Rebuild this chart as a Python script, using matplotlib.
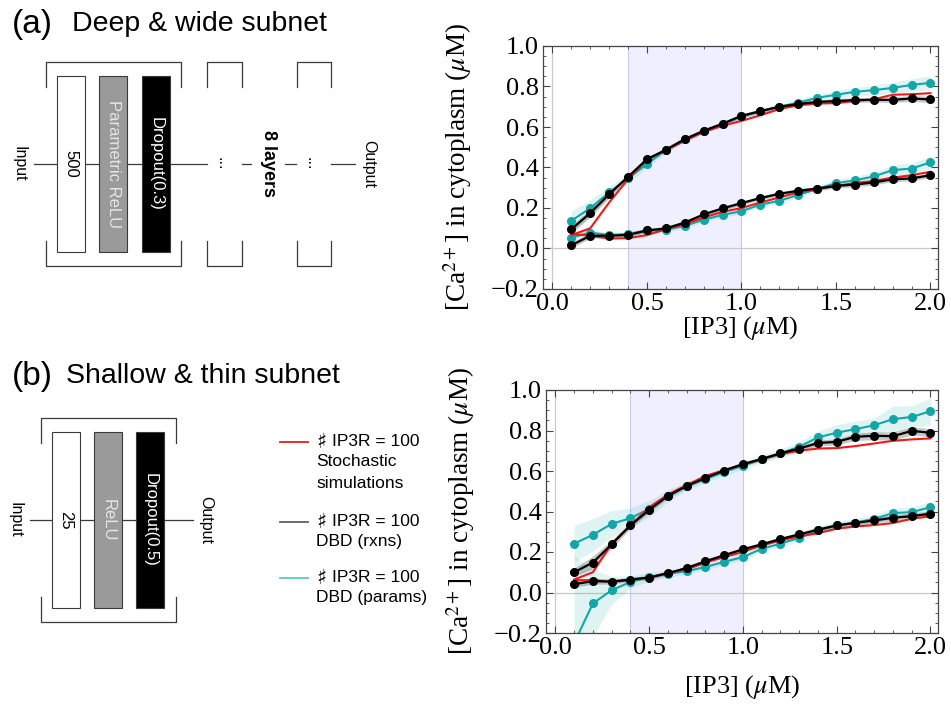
"""Ca2+ response vs IP3: DBD subnet comparison (deep/wide vs shallow/thin)."""

import matplotlib
matplotlib.use("Agg")
import matplotlib.pyplot as plt
import numpy as np
from matplotlib.patches import Rectangle
from matplotlib.ticker import MultipleLocator

plt.rcParams["mathtext.fontset"] = "stix"

ip3 = np.round(np.arange(1, 21) * 0.1, 1)

# panel (a): deep & wide subnet
a_stoch_hi = [0.066, 0.100, 0.227, 0.342, 0.438, 0.487, 0.532, 0.576, 0.606, 0.630,
              0.658, 0.688, 0.708, 0.716, 0.718, 0.729, 0.737, 0.759, 0.762, 0.767]
a_rxns_hi = [0.095, 0.175, 0.268, 0.354, 0.441, 0.487, 0.540, 0.581, 0.616, 0.655,
             0.678, 0.700, 0.713, 0.724, 0.728, 0.733, 0.734, 0.734, 0.741, 0.736]
a_params_hi = [0.137, 0.199, 0.277, 0.347, 0.416, 0.487, 0.540, 0.580, 0.616, 0.652,
               0.678, 0.700, 0.720, 0.744, 0.759, 0.774, 0.782, 0.793, 0.808, 0.818]
a_stoch_lo = [0.071, 0.063, 0.049, 0.051, 0.066, 0.095, 0.120, 0.153, 0.181, 0.200,
              0.227, 0.252, 0.277, 0.293, 0.309, 0.323, 0.334, 0.350, 0.362, 0.379]
a_rxns_lo = [0.016, 0.063, 0.063, 0.067, 0.089, 0.099, 0.128, 0.168, 0.198, 0.224,
             0.249, 0.270, 0.285, 0.296, 0.309, 0.316, 0.326, 0.342, 0.346, 0.362]
a_params_lo = [0.054, 0.079, 0.066, 0.072, 0.089, 0.092, 0.112, 0.142, 0.166, 0.184,
               0.217, 0.235, 0.265, 0.293, 0.323, 0.336, 0.356, 0.387, 0.395, 0.425]
a_rxns_hi_err = [0.020, 0.020, 0.015, 0.012, 0.012, 0.010, 0.010, 0.010, 0.010, 0.010,
                 0.010, 0.010, 0.010, 0.010, 0.012, 0.012, 0.012, 0.012, 0.015, 0.015]
a_params_hi_err = [0.050, 0.040, 0.030, 0.022, 0.018, 0.015, 0.012, 0.012, 0.012, 0.012,
                   0.012, 0.012, 0.015, 0.018, 0.020, 0.022, 0.025, 0.028, 0.030, 0.035]
a_rxns_lo_err = [0.015, 0.012, 0.010, 0.010, 0.010, 0.010, 0.010, 0.010, 0.010, 0.010,
                 0.010, 0.010, 0.010, 0.010, 0.010, 0.012, 0.012, 0.012, 0.012, 0.012]
a_params_lo_err = [0.020, 0.015, 0.012, 0.012, 0.012, 0.012, 0.012, 0.012, 0.012, 0.012,
                   0.012, 0.012, 0.015, 0.015, 0.018, 0.020, 0.022, 0.025, 0.028, 0.030]

# panel (b): shallow & thin subnet
b_stoch_hi = [0.064, 0.100, 0.241, 0.331, 0.421, 0.484, 0.531, 0.575, 0.605, 0.631,
              0.659, 0.684, 0.700, 0.711, 0.713, 0.723, 0.736, 0.749, 0.756, 0.761]
b_rxns_hi = [0.100, 0.148, 0.238, 0.331, 0.408, 0.477, 0.526, 0.566, 0.602, 0.634,
             0.659, 0.687, 0.711, 0.738, 0.744, 0.769, 0.774, 0.772, 0.798, 0.789]
b_params_hi = [0.241, 0.285, 0.339, 0.367, 0.413, 0.477, 0.526, 0.561, 0.597, 0.626,
               0.659, 0.687, 0.720, 0.766, 0.789, 0.807, 0.826, 0.856, 0.867, 0.895]
b_stoch_lo = [0.061, 0.061, 0.052, 0.061, 0.074, 0.097, 0.115, 0.148, 0.175, 0.200,
              0.233, 0.257, 0.277, 0.293, 0.315, 0.326, 0.333, 0.343, 0.364, 0.377]
b_rxns_lo = [0.041, 0.056, 0.054, 0.064, 0.074, 0.095, 0.121, 0.154, 0.184, 0.213,
             0.238, 0.264, 0.287, 0.310, 0.331, 0.344, 0.356, 0.369, 0.377, 0.389]
b_params_lo = [-0.250, -0.054, 0.011, 0.052, 0.077, 0.093, 0.105, 0.126, 0.151, 0.175,
               0.216, 0.241, 0.270, 0.307, 0.331, 0.344, 0.364, 0.392, 0.397, 0.421]
b_rxns_hi_err = [0.020, 0.032, 0.020, 0.015, 0.012, 0.012, 0.010, 0.010, 0.010, 0.010,
                 0.010, 0.012, 0.012, 0.015, 0.015, 0.018, 0.020, 0.020, 0.020, 0.020]
b_params_hi_err = [0.090, 0.080, 0.065, 0.050, 0.040, 0.030, 0.020, 0.018, 0.018, 0.018,
                   0.020, 0.022, 0.025, 0.030, 0.040, 0.040, 0.036, 0.065, 0.055, 0.065]
b_rxns_lo_err = [0.015, 0.015, 0.012, 0.010, 0.010, 0.010, 0.010, 0.010, 0.010, 0.010,
                 0.010, 0.010, 0.010, 0.012, 0.012, 0.012, 0.012, 0.015, 0.015, 0.015]
b_params_lo_err = [0.430, 0.165, 0.070, 0.030, 0.022, 0.018, 0.015, 0.015, 0.015, 0.015,
                   0.015, 0.015, 0.018, 0.020, 0.020, 0.022, 0.022, 0.025, 0.025, 0.028]

shade_lo, shade_hi = 0.4, 1.0

RED = "#f01818"
CYAN = "#13a6a6"
SERIF = "Liberation Serif"
SANS = "Liberation Sans"


def response_panel(ax, stoch, rxns, params, rxns_err, params_err, xpad):
    ax.axvspan(shade_lo, shade_hi, facecolor="#efeffd", edgecolor="#c9c9ef", lw=0.8, zorder=0)
    ax.axhline(0, color="#c8c8c8", lw=0.9, zorder=0.5)
    ax.axvline(0, color="#c8c8c8", lw=0.9, zorder=0.5)
    for s, r, p, re, pe in zip(stoch, rxns, params, rxns_err, params_err):
        s, r, p = np.asarray(s), np.asarray(r), np.asarray(p)
        re, pe = np.asarray(re), np.asarray(pe)
        ax.fill_between(ip3, p - pe, p + pe, color=CYAN, alpha=0.13, lw=0, zorder=1)
        ax.fill_between(ip3, r - re, r + re, color="black", alpha=0.22, lw=0, zorder=1.2)
        ax.plot(ip3, p, color=CYAN, lw=1.5, marker="o", ms=5.5, zorder=2)
        ax.plot(ip3, s, color=RED, lw=1.5, zorder=2.5)
        ax.plot(ip3, r, color="black", lw=1.6, marker="o", ms=5.5, zorder=3)

    ax.set_xlim(-0.05, 2.04)
    ax.set_ylim(-0.2, 1.0)
    ax.xaxis.set_major_locator(MultipleLocator(0.5))
    ax.xaxis.set_minor_locator(MultipleLocator(0.1))
    ax.yaxis.set_major_locator(MultipleLocator(0.2))
    ax.yaxis.set_minor_locator(MultipleLocator(0.05))
    ax.xaxis.set_major_formatter(plt.FuncFormatter(lambda v, _: f"{v:.1f}"))
    ax.yaxis.set_major_formatter(
        plt.FuncFormatter(lambda v, _: f"{v:.1f}".replace("-", "\u2212")))
    ax.tick_params(which="both", direction="in", top=True, right=True,
                   color="#444444", labelsize=19, pad=3)
    ax.tick_params(which="major", length=5, width=0.8)
    ax.tick_params(which="minor", length=2.5, width=0.6)
    for lab in ax.get_xticklabels() + ax.get_yticklabels():
        lab.set_fontfamily(SERIF)
    for sp in ax.spines.values():
        sp.set_color("#444444")
        sp.set_linewidth(0.9)
    ax.set_xlabel("[IP3] ($\\mu$M)", fontsize=19, family=SERIF, labelpad=xpad)
    ax.set_ylabel("[Ca$^{2+}$] in cytoplasm ($\\mu$M)", fontsize=19.5, family=SERIF,
                  labelpad=12)


fig = plt.figure(figsize=(9.51, 7.06), dpi=100)

# diagram canvas in pixel coordinates
dg = fig.add_axes([0, 0, 1, 1])
dg.set_xlim(0, 951)
dg.set_ylim(706, 0)
dg.axis("off")

EDGE = "#3a3a3a"


def bracket(x0, x1, top, bot, arm=25):
    dg.plot([x0, x0, x1, x1], [top + arm, top, top, top + arm], color=EDGE, lw=0.9)
    dg.plot([x0, x0, x1, x1], [bot - arm, bot, bot, bot - arm], color=EDGE, lw=0.9)


def layer_boxes(xs, top, bot, labels, w=28):
    fills = ["white", "#9a9a9a", "black"]
    tcols = ["black", "#e6e6e6", "white"]
    for x, f, tc, lab in zip(xs, fills, tcols, labels):
        dg.add_patch(Rectangle((x, top), w, bot - top, facecolor=f, edgecolor=EDGE,
                               lw=0.8, zorder=3))
        dg.text(x + w / 2, (top + bot) / 2, lab, rotation=-90, ha="center", va="center",
                fontsize=12, color=tc, family=SANS, zorder=4)


# (a) deep & wide subnet
dg.text(12, 24, "(a)", fontsize=24, family=SANS, va="center")
dg.text(72, 24, "Deep & wide subnet", fontsize=20.5, family=SANS, va="center")
ya = 164
dg.plot([34, 207], [ya, ya], color=EDGE, lw=0.9, zorder=1)
dg.plot([242, 251], [ya, ya], color=EDGE, lw=0.9, zorder=1)
dg.plot([285, 296], [ya, ya], color=EDGE, lw=0.9, zorder=1)
dg.plot([331, 355], [ya, ya], color=EDGE, lw=0.9, zorder=1)
bracket(46, 181, 62, 266)
bracket(207, 242, 62, 266)
bracket(297, 331, 62, 266)
layer_boxes([57, 99, 142], 76, 252, ["500", "Parametric ReLU", "Dropout(0.3)"])
dg.text(19, ya, "Input", rotation=-90, ha="center", va="center", fontsize=11.5, family=SANS)
dg.text(369, ya, "Output", rotation=-90, ha="center", va="center", fontsize=11.5, family=SANS)
dg.text(222, ya, "...", rotation=-90, ha="center", va="center", fontsize=11.5, family=SANS)
dg.text(311, ya, "...", rotation=-90, ha="center", va="center", fontsize=11.5, family=SANS)
dg.text(269, ya, "8 layers", rotation=-90, ha="center", va="center", fontsize=13,
        fontweight="bold", family=SANS)

# (b) shallow & thin subnet
dg.text(12, 376, "(b)", fontsize=24, family=SANS, va="center")
dg.text(66, 376, "Shallow & thin subnet", fontsize=20.5, family=SANS, va="center")
yb = 520
dg.plot([30, 193], [yb, yb], color=EDGE, lw=0.9, zorder=1)
bracket(41, 176, 418, 622)
layer_boxes([52, 94, 136], 432, 608, ["25", "ReLU", "Dropout(0.5)"])
dg.text(15, yb, "Input", rotation=-90, ha="center", va="center", fontsize=11.5, family=SANS)
dg.text(206, yb, "Output", rotation=-90, ha="center", va="center", fontsize=11.5, family=SANS)

# legend
legend_items = [
    (RED, 442, ["Stochastic", "simulations"]),
    ("#606060", 522, ["DBD (rxns)"]),
    ("#5ec8c8", 578, ["DBD (params)"]),
]
for col, y, rest in legend_items:
    dg.plot([280, 308], [y, y], color=col, lw=1.3)
    dg.text(316, y, "\u266f", fontsize=15, family="DejaVu Sans", va="center")
    dg.text(332, y, "IP3R = 100", fontsize=12.5, family=SANS, va="center")
    dg.text(316, y + 12, "\n".join(rest), fontsize=12.5, family=SANS, va="top",
            linespacing=1.6)

ax_a = fig.add_axes([543 / 951, 1 - 289 / 706, 395 / 951, 243 / 706])
response_panel(ax_a, [a_stoch_hi, a_stoch_lo], [a_rxns_hi, a_rxns_lo],
               [a_params_hi, a_params_lo], [a_rxns_hi_err, a_rxns_lo_err],
               [a_params_hi_err, a_params_lo_err], xpad=-1)

ax_b = fig.add_axes([546 / 951, 1 - 633 / 706, 392 / 951, 243 / 706])
response_panel(ax_b, [b_stoch_hi, b_stoch_lo], [b_rxns_hi, b_rxns_lo],
               [b_params_hi, b_params_lo], [b_rxns_hi_err, b_rxns_lo_err],
               [b_params_hi_err, b_params_lo_err], xpad=10)

fig.savefig("out.png", dpi=100)
